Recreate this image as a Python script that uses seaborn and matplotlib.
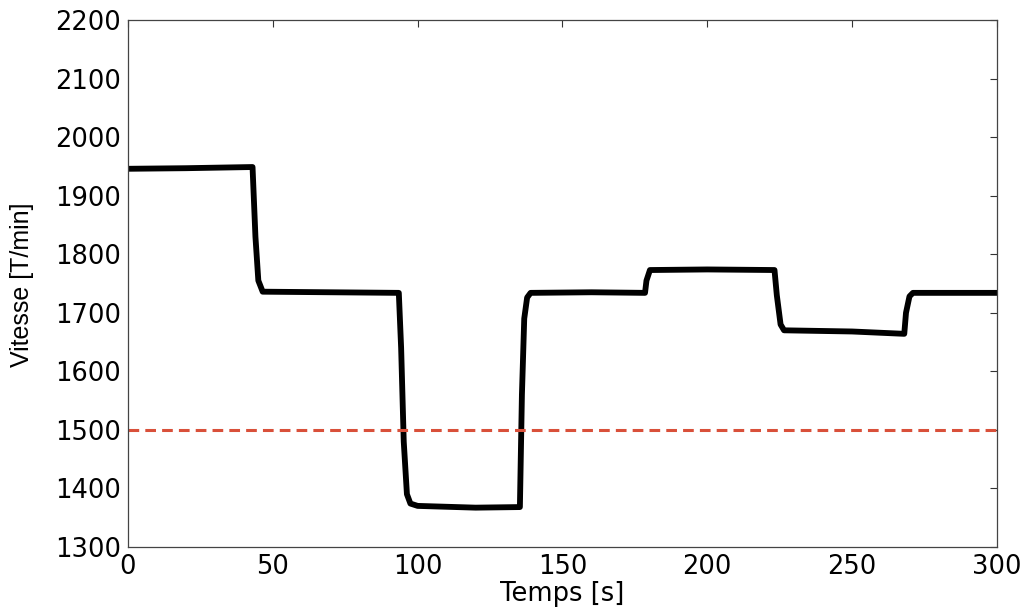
import matplotlib
matplotlib.use("Agg")
import matplotlib.pyplot as plt
import pandas as pd
import seaborn as sns

# speed trace (time in s, speed in T/min)
temps = [0, 20, 43, 44, 45, 46.5, 70, 93.5, 94.3, 95.2, 96.3, 97.5, 100, 120, 135.3,
         136.0, 136.8, 137.8, 139.0, 160, 178.5, 179.0, 180.2, 200, 223.2, 224.0,
         225.3, 226.5, 250, 268.0, 268.6, 269.8, 271.0, 300]
vitesse = [1946, 1947, 1949, 1830, 1755, 1736, 1735, 1734, 1640, 1480, 1390, 1374,
           1370, 1367, 1368, 1560, 1690, 1726, 1734, 1735, 1734, 1755, 1773, 1774,
           1773, 1730, 1680, 1670, 1668, 1664, 1700, 1728, 1734, 1734]
consigne = 1500

x_ticks = [0, 50, 100, 150, 200, 250, 300]
y_ticks = [1300, 1400, 1500, 1600, 1700, 1800, 1900, 2000, 2100, 2200]

df = pd.DataFrame({"Temps": temps, "Vitesse": vitesse})

sns.set_style("white")
plt.rcParams["font.family"] = ["DejaVu Sans"]

fig = plt.figure(figsize=(10.28, 6.10), dpi=100)
ax = fig.add_axes([0.1245, 0.1035, 0.8453, 0.8635])

sns.lineplot(data=df, x="Temps", y="Vitesse", color="black", linewidth=4.2,
             ax=ax, estimator=None, sort=False)
ax.axhline(consigne, color="#d9503a", linewidth=2.2, linestyle=(0, (3.5, 2)))

ax.set_xlim(0, 300)
ax.set_ylim(1300, 2200)
ax.set_xticks(x_ticks)
ax.set_yticks(y_ticks)
ax.tick_params(direction="in", length=5, width=0.8, top=True, right=True,
               labelsize=18.5, pad=5, colors="#333333", labelcolor="black")
for spine in ax.spines.values():
    spine.set_color("#444444")
    spine.set_linewidth(0.9)

ax.set_xlabel("Temps [s]", fontsize=18.5, color="black")
ax.xaxis.set_label_coords(0.4995, -0.064)
ax.set_ylabel("Vitesse [T/min]", fontsize=18, color="black",
              family=["Liberation Sans", "DejaVu Sans"])
ax.yaxis.set_label_coords(-0.108, 0.4975)

fig.savefig("out.png", dpi=100)
